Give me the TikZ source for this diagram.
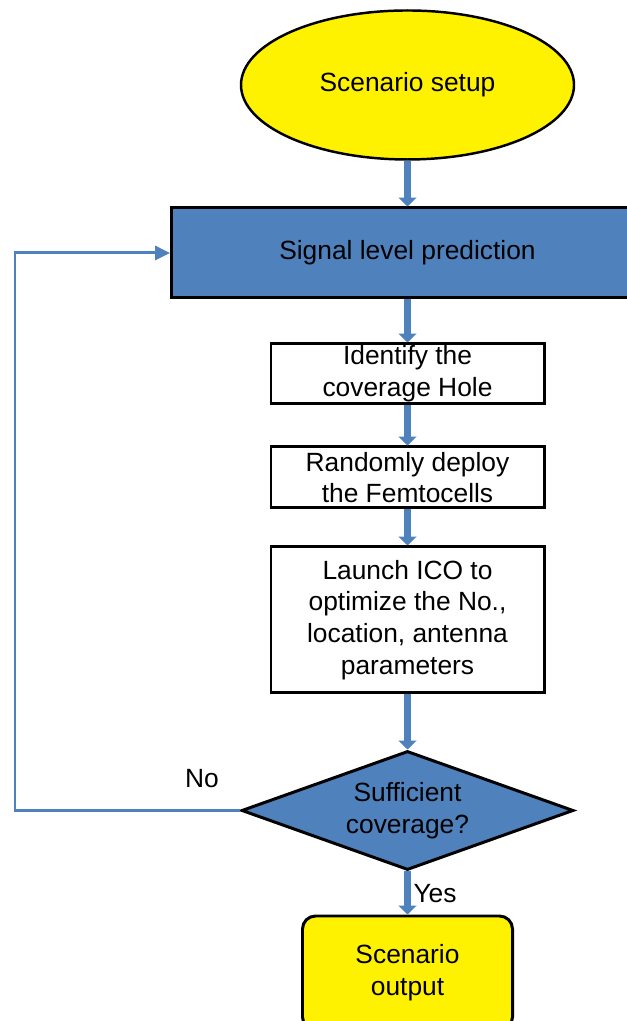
\documentclass[tikz,border=0pt]{standalone}
\usepackage{fontspec}
\setmainfont{Liberation Sans}
\usetikzlibrary{shapes.geometric,arrows.meta}
\definecolor{flowblue}{HTML}{4F81BD}

\begin{document}
\begin{tikzpicture}[every node/.style={font=\fontsize{15}{18}\selectfont, align=center, inner sep=0pt},
    box/.style={draw, line width=1.7pt, minimum width=5.46cm},
    flow/.style={flowblue, line width=4.5pt, -{Triangle[width=10pt,length=5pt]}},
    backflow/.style={flowblue, line width=1.7pt, -{Triangle[width=8pt,length=8.5pt]}}]
    \useasboundingbox (0,0) rectangle (12.54,20.42);
    \node[ellipse, draw, line width=1.4pt, fill=yellow, minimum width=6.66cm, minimum height=2.98cm] (setup) at (8.15,18.72) {Scenario setup};
    \node[box, fill=flowblue, minimum width=9.44cm, minimum height=1.8cm] (signal) at (8.15,15.36) {Signal level prediction};
    \node[box, fill=white, minimum height=1.2cm] (ident) at (8.15,12.94) {Identify the\\coverage Hole};
    \node[box, fill=white, minimum height=1.22cm] (deploy) at (8.15,10.87) {Randomly deploy\\the Femtocells};
    \node[box, fill=white, minimum height=2.92cm] (ico) at (8.15,8.02) {Launch ICO to\\optimize the No.,\\location, antenna\\parameters};
    \node[diamond, draw, line width=1.7pt, fill=flowblue, aspect=2.8, minimum width=6.64cm, minimum height=2.38cm] (check) at (8.15,4.21) {Sufficient\\coverage?};
    \node[draw, line width=1.7pt, fill=yellow, rounded corners=0.26cm, minimum width=4.2cm, minimum height=2.28cm] (output) at (8.15,0.96) {Scenario\\output};
    \foreach \a/\b in {setup/signal,signal/ident,ident/deploy,deploy/ico,ico/check,check/output}
        \draw[flow] (\a.south) -- (\b.north);
    % laco de retorno (No)
    \coordinate (turnlow) at (0.3,4.21);
    \coordinate (turnup) at (0.3,15.36);
    \draw[backflow] (check.west) -- (turnlow) -- (turnup) -- (signal.west);
    \node (no) at (4.04,4.84) {No};
    \node (yes) at (8.70,2.54) {Yes};
\end{tikzpicture}
\end{document}
